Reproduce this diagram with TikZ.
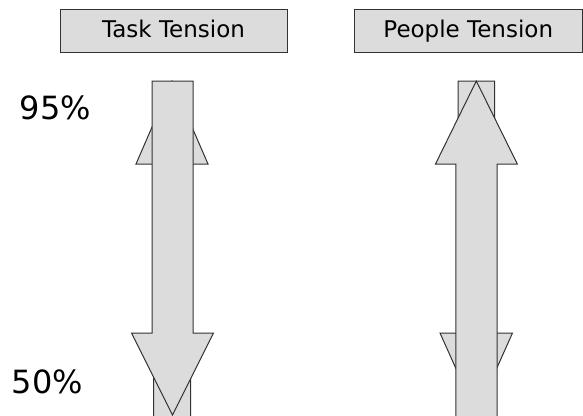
\documentclass[tikz,border=0pt]{standalone}
\usepackage{fontspec}
\setmainfont{DejaVu Sans}
\definecolor{panel}{RGB}{220,220,220}
\definecolor{rim}{RGB}{50,50,50}
\begin{document}
\begin{tikzpicture}[x=1pt,y=-1pt,
  titlebox/.style={draw=rim,fill=panel,line width=1pt,inner sep=0pt,
    minimum height=43pt,text height=13pt,text depth=0pt,
    font=\fontsize{23}{27}\selectfont},
  pct/.style={inner sep=0pt,anchor=base,font=\fontsize{32}{37}\selectfont},
  arrowshape/.style={draw=rim,fill=panel,line width=1pt,line join=miter}]
\clip (0,0) rectangle (583,415);
\useasboundingbox (0,0) rectangle (583,415);

% column titles
\node[titlebox,minimum width=227pt] (task) at (173.5,30.5) {Task Tension};
\node[titlebox,minimum width=228.5pt] (people) at (468.25,30.5) {People Tension};

% percentage marks
\node[pct] (high) at (55.5,119) {95\%};
\node[pct] (low) at (47.5,393) {50\%};

% left column: up arrow behind, down arrow in front
\draw[arrowshape] (153.5,420) -- (153.5,164) -- (136,164) -- (172,81)
  -- (208,164) -- (190.5,164) -- (190.5,420) -- cycle;
\draw[arrowshape] (152,81) -- (193,81) -- (193,333) -- (213.5,333)
  -- (172.5,415) -- (131.5,333) -- (152,333) -- cycle;

% right column: down arrow behind, up arrow in front
\draw[arrowshape] (458,81) -- (494.5,81) -- (494.5,333) -- (512.5,333)
  -- (476.3,414) -- (440,333) -- (458,333) -- cycle;
\draw[arrowshape] (455.8,420) -- (455.8,164) -- (435.5,164) -- (476.3,81)
  -- (517.3,164) -- (497,164) -- (497,420) -- cycle;
\end{tikzpicture}
\end{document}
